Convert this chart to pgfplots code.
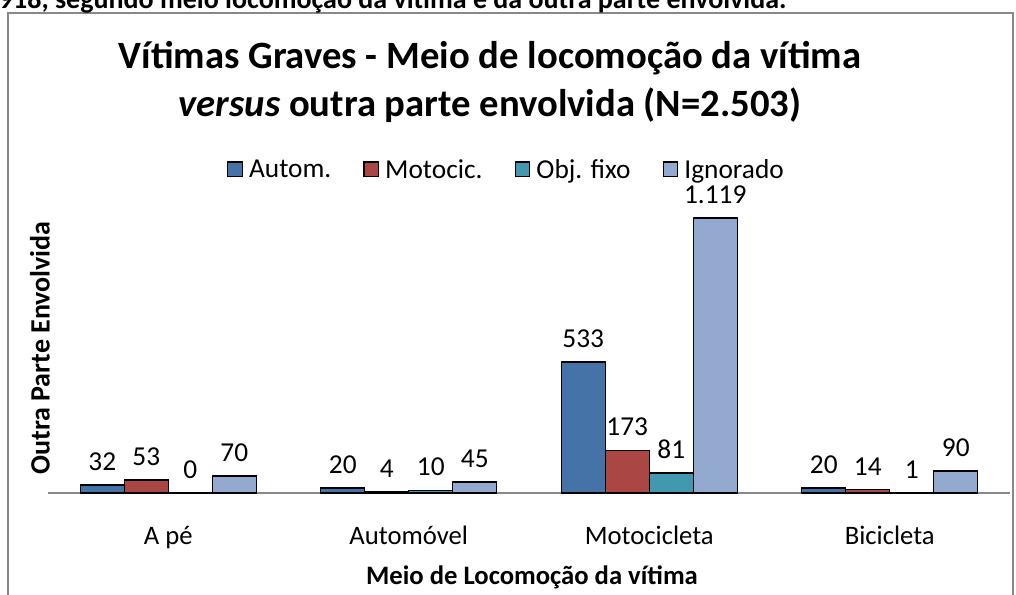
\documentclass[border=0pt]{standalone}
\usepackage{pgfplots}
\pgfplotsset{compat=1.18}
\usepackage{fontspec}
\setmainfont{Carlito}
\definecolor{cA}{HTML}{4572A7}
\definecolor{cB}{HTML}{AA4643}
\definecolor{cC}{HTML}{4198AF}
\definecolor{cD}{HTML}{93A9CF}
\definecolor{frame}{HTML}{888888}
\begin{document}
\begin{tikzpicture}
\useasboundingbox (-36pt,-75.75pt) rectangle (726pt,369.75pt);
\begin{axis}[
  at={(0,0)}, anchor=south west,
  scale only axis, width=721.5pt, height=221.25pt,
  ymin=0, ymax=1200, xmin=-0.5, xmax=3.5,
  ybar=0pt, bar width=33pt,
  axis x line*=bottom, axis y line=none,
  x axis line style={draw=frame, line width=1.2pt, -},
  xtick={0,1,2,3},
  xticklabels={A pé, Automóvel, Motocicleta, Bicicleta},
  xtick style={draw=none},
  xticklabel style={anchor=base, yshift=-34.5pt, font=\fontsize{20}{20}\selectfont},
  ytick=\empty,
  clip=false,
  every axis plot/.append style={draw=black, line width=1.1pt},
  nodes near coords,
  every node near coord/.append style={font=\fontsize{20.5}{20.5}\selectfont, anchor=south, yshift=7pt, black},
  /pgf/number format/.cd, 1000 sep={.}, assume math mode=true,
  /pgfplots/.cd,
  legend style={at={(0.477,1.095)}, anchor=center, draw=none, fill=none,
    font=\fontsize{20.5}{20.5}\selectfont, legend columns=4,
    /tikz/every even column/.append style={column sep=22pt},
    /tikz/every odd column/.append style={column sep=2.5pt}},
  legend image code/.code={\draw[#1, line width=0.9pt] (0pt,-5pt) rectangle (11pt,6pt);},
]
\addplot[fill=cA] coordinates {(0,32) (1,20) (2,533) (3,20)};
\addplot[fill=cB] coordinates {(0,53) (1,4) (2,173) (3,14)};
\addplot[fill=cC] coordinates {(0,0) (1,10) (2,81) (3,1)};
\addplot[fill=cD] coordinates {(0,70) (1,45) (2,1119) (3,90)};
\legend{Autom., Motocic., Obj. fixo, Ignorado}
\end{axis}
\draw[frame, line width=1.5pt] (-30pt,-80pt) -- (-30pt,360pt) -- (723.75pt,360pt) -- (723.75pt,-80pt);
\node[anchor=base west, inner sep=0pt, font=\bfseries\fontsize{21}{21}\selectfont] at (-37pt,363.5pt) {918, segundo meio locomoção da vítima e da outra parte envolvida.};
\node[font=\bfseries\fontsize{29}{29}\selectfont] at (331.5pt,326pt) {Vítimas Graves - Meio de locomoção da vítima};
\node[font=\bfseries\fontsize{29}{29}\selectfont] at (331.5pt,290.5pt) {\textit{versus} outra parte envolvida (N=2.503)};
\node[rotate=90, font=\bfseries\fontsize{21}{21}\selectfont] at (-6pt,108.75pt) {Outra Parte Envolvida};
\node[font=\bfseries\fontsize{20}{20}\selectfont] at (363pt,-63pt) {Meio de Locomoção da vítima};
\end{tikzpicture}
\end{document}
